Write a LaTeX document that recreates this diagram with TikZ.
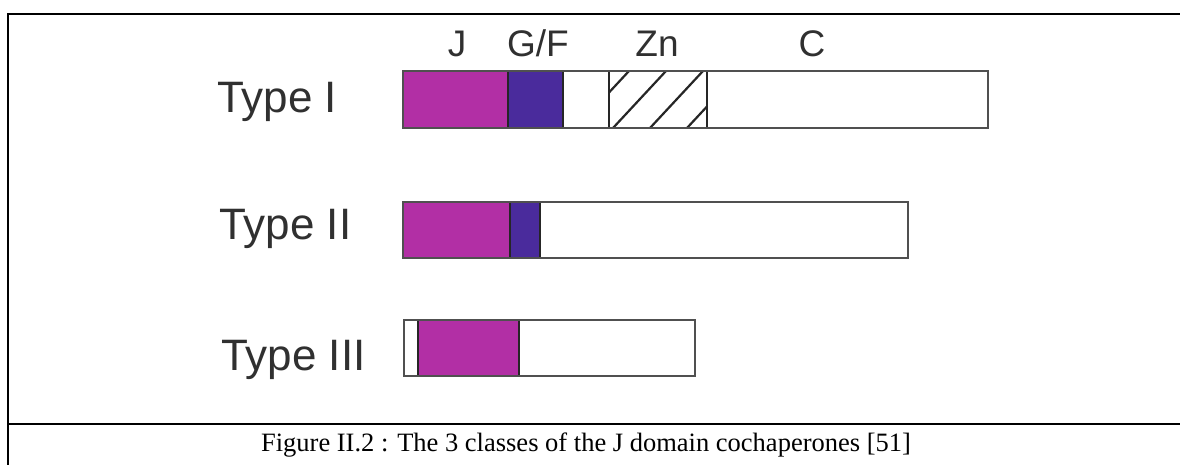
\documentclass[tikz,border=0pt]{standalone}
\usepackage{fontspec}
\setmainfont{Liberation Serif}
\setsansfont{Liberation Sans}
\definecolor{jpink}{HTML}{B22FA5}
\definecolor{gfblue}{HTML}{4A2B9C}
\definecolor{labelgray}{HTML}{303030}
\definecolor{bargray}{HTML}{505050}
\begin{document}
\begin{tikzpicture}[x=1pt,y=-1pt,
  typelabel/.style={font=\sffamily\fontsize{44}{44}\selectfont, text=labelgray, anchor=base west, inner sep=0pt},
  domlabel/.style={font=\sffamily\fontsize{37}{37}\selectfont, text=labelgray, anchor=base, inner sep=0pt},
  outline/.style={draw=bargray, line width=2.2pt},
  divider/.style={draw=black!85, line width=1.5pt},
  hatchline/.style={draw=black!85, line width=2.2pt},
  frameline/.style={draw=black, line width=1.7pt}]
\useasboundingbox (0,0) rectangle (1180,465);
\fill[white] (0,0) rectangle (1180,465);

% table frame
\draw[frameline] (1185,14) -- (8,14) -- (8,470);
\draw[frameline] (8,424) -- (1185,424);

% domain names above the bars
\node[domlabel] (hJ)  at (457,57) {J};
\node[domlabel] (hGF) at (538,57) {G/F};
\node[domlabel] (hZn) at (657,57) {Zn};
\node[domlabel] (hC)  at (812,57) {C};

% row labels
\node[typelabel] (t1) at (217,113) {Type I};
\node[typelabel] (t2) at (219,240) {Type II};
\node[typelabel] (t3) at (221,370) {Type III};

% Type I: J, G/F, gap, Zn (hatched), C
\fill[jpink]  (403,71) rectangle (508,128);
\fill[gfblue] (508,71) rectangle (563,128);
\begin{scope}
  \clip (609,71) rectangle (707,128);
  \foreach \s in {576,613,650,687}
    \draw[hatchline] (\s,128) -- ++(53,-57);
\end{scope}
\draw[divider] (508,71) -- (508,128);
\draw[divider] (563,71) -- (563,128);
\draw[divider] (609,71) -- (609,128);
\draw[divider] (707,71) -- (707,128);
\draw[outline] (403,71) rectangle (988,128);

% Type II: J, G/F, C
\fill[jpink]  (403,202) rectangle (510,258);
\fill[gfblue] (510,202) rectangle (540,258);
\draw[divider] (510,202) -- (510,258);
\draw[divider] (540,202) -- (540,258);
\draw[outline] (403,202) rectangle (908,258);

% Type III: short lead, J, C
\fill[jpink] (418,320) rectangle (519,376);
\draw[divider] (418,320) -- (418,376);
\draw[divider] (519,320) -- (519,376);
\draw[outline] (404,320) rectangle (695,376);

% caption
\node[font=\fontsize{26.5}{26.5}\selectfont, anchor=base, inner sep=0pt] (cap) at (586,451)
  {Figure II.2 : The 3 classes of the J domain cochaperones [51]};
\end{tikzpicture}
\end{document}
